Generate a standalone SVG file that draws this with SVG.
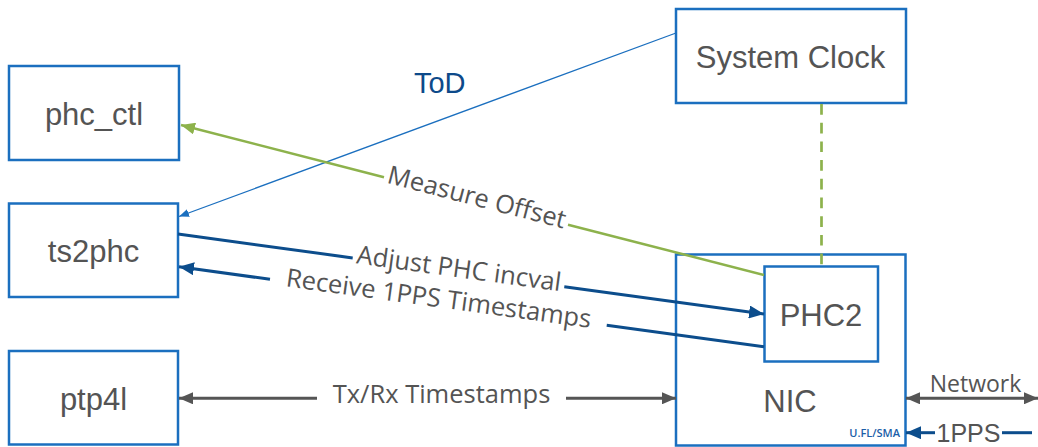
<svg xmlns="http://www.w3.org/2000/svg" width="1038" height="447" viewBox="0 0 1038 447">
<style>
.box{fill:#fff;stroke:#1b6fbf;stroke-width:2.5}
.lbl{font-family:"Liberation Sans",Arial,sans-serif;font-size:31px;fill:#545454;text-anchor:middle}
.cl{font-family:"Open Sans","Noto Sans",sans-serif;font-size:25.5px;fill:#545454;text-anchor:middle}
.db{stroke:#0c4d8c;stroke-width:3;fill:none}
.gr{stroke:#8db24c;stroke-width:2.5;fill:none}
.gy{stroke:#555;stroke-width:3;fill:none}
</style>
<defs>
<marker id="aDB" markerUnits="userSpaceOnUse" markerWidth="15" markerHeight="13" refX="15" refY="6.5" orient="auto"><path d="M0,0 L15,6.5 L0,13 z" fill="#0c4d8c"/></marker>
<marker id="aG" markerUnits="userSpaceOnUse" markerWidth="14" markerHeight="12" refX="14" refY="6" orient="auto"><path d="M0,0 L14,6 L0,12 z" fill="#8db24c"/></marker>
<marker id="aGy" markerUnits="userSpaceOnUse" markerWidth="14" markerHeight="12" refX="14" refY="6" orient="auto-start-reverse"><path d="M0,0 L14,6 L0,12 z" fill="#555"/></marker>
<marker id="aT" markerUnits="userSpaceOnUse" markerWidth="10" markerHeight="8" refX="10" refY="4" orient="auto"><path d="M0,0 L10,4 L0,8 z" fill="#1b6fbf"/></marker>
</defs>
<rect width="1038" height="447" fill="#fff"/>

<g id="phc_ctl"><rect class="box" x="9" y="66" width="170" height="94"/><text class="lbl" x="94" y="124.5">phc_ctl</text></g>
<g id="ts2phc"><rect class="box" x="9" y="203.5" width="169" height="93.5"/><text class="lbl" x="93.5" y="261.5">ts2phc</text></g>
<g id="ptp4l"><rect class="box" x="9" y="351" width="169" height="93.5"/><text class="lbl" x="93.5" y="409.5">ptp4l</text></g>
<g id="system_clock"><rect class="box" x="676" y="9" width="230" height="94"/><text class="lbl" x="790.5" y="68.3">System Clock</text></g>
<g id="nic"><rect class="box" x="676" y="254.5" width="229.5" height="191"/><text class="lbl" x="790" y="411.7">NIC</text>
  <text x="900" y="436.7" font-family="Open Sans, Noto Sans, sans-serif" font-size="11" font-weight="600" fill="#1b5ea8" text-anchor="end">U.FL/SMA</text></g>
<g id="phc2"><rect class="box" x="764.5" y="266.5" width="113.5" height="95"/><text class="lbl" x="821" y="326">PHC2</text></g>

<g id="connectors">
  <line x1="676" y1="33" x2="179" y2="216.5" stroke="#1b6fbf" stroke-width="1.3" marker-end="url(#aT)"/>
  <line x1="821.5" y1="104" x2="821.5" y2="265" stroke="#8db24c" stroke-width="2.7" stroke-dasharray="10.7 8"/>
  <line class="gr" x1="764" y1="275" x2="568" y2="224.7"/>
  <line class="gr" x1="384" y1="177.3" x2="181" y2="125" marker-end="url(#aG)"/>
  <line class="db" x1="178" y1="234" x2="352.7" y2="257.9"/>
  <line class="db" x1="564.3" y1="286.7" x2="764" y2="314" marker-end="url(#aDB)"/>
  <line class="db" x1="764" y1="346.7" x2="606.7" y2="325.2"/>
  <line class="db" x1="270" y1="279.3" x2="179" y2="266.7" marker-end="url(#aDB)"/>
  <line class="gy" x1="317" y1="398.3" x2="179" y2="398.3" marker-end="url(#aGy)"/>
  <line class="gy" x1="566" y1="398.3" x2="676" y2="398.3" marker-end="url(#aGy)"/>
  <line class="gy" x1="906" y1="398.3" x2="1038" y2="398.3" marker-start="url(#aGy)" marker-end="url(#aGy)"/>
  <line class="db" x1="1032" y1="432.7" x2="1002" y2="432.7"/>
  <line class="db" x1="935" y1="432.7" x2="906" y2="432.7" marker-end="url(#aDB)"/>
  <text x="439.7" y="92.7" font-family="Liberation Sans, Arial, sans-serif" font-size="29" fill="#0d4a8a" text-anchor="middle">ToD</text>
  <text class="cl" x="476" y="200.8" dy="5" transform="rotate(14.45 476 200.8)">Measure Offset</text>
  <text class="cl" x="458.5" y="272.3" dy="5" transform="rotate(7.77 458.5 272.3)">Adjust PHC incval</text>
  <text class="cl" x="438.3" y="302.2" dy="5" transform="rotate(7.77 438.3 302.2)">Receive 1PPS Timestamps</text>
  <text class="cl" x="441.5" y="403.3">Tx/Rx Timestamps</text>
  <text class="cl" x="975.5" y="391.5" style="font-size:23px">Network</text>
  <text x="968.5" y="442" font-family="Liberation Sans, Arial, sans-serif" font-size="25" fill="#545454" text-anchor="middle">1PPS</text>
</g>
</svg>
